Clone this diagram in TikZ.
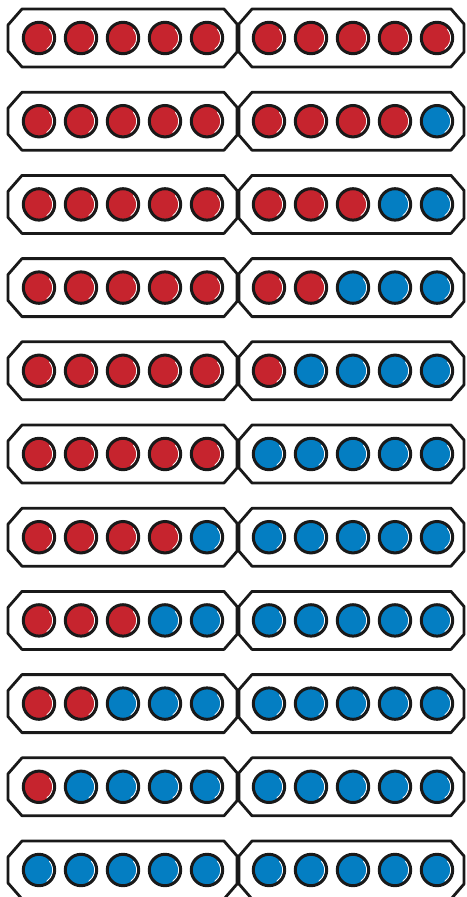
\documentclass[tikz,border=0pt]{standalone}
\definecolor{dotred}{RGB}{198,36,46}
\definecolor{dotblue}{RGB}{4,126,194}
\tikzset{
  framebox/.style={draw=black!90, line width=2.8pt, line join=round, fill=white},
  dot/.style={draw=black!90, line width=3pt},
  shine/.style={draw=white, line width=1pt, line cap=round}
}
\begin{document}
\begin{tikzpicture}[x=1pt,y=-1pt]
\useasboundingbox (0,0) rectangle (466,897);
\foreach \r in {0,...,10}{
  \pgfmathsetmacro{\cy}{38+83.2*\r}
  \pgfmathtruncatemacro{\nred}{10-\r}
  % left box
  \draw[framebox] (22,\cy-29) -- (224,\cy-29) -- (237,\cy-14) -- (237,\cy+14) -- (224,\cy+29)
     -- (22,\cy+29) -- (8,\cy+13) -- (8,\cy-13) -- cycle;
  % right box
  \draw[framebox] (252,\cy-29) -- (451,\cy-29) -- (464,\cy-14) -- (464,\cy+14) -- (451,\cy+29)
     -- (252,\cy+29) -- (239,\cy+14) -- (239,\cy-14) -- cycle;
  \foreach \k in {1,...,10}{
    \pgfmathsetmacro{\cx}{\k<6 ? 39+42*(\k-1) : 269+42*(\k-6)}
    \ifnum\k>\nred
      \def\dc{dotblue}
    \else
      \def\dc{dotred}
    \fi
    \fill[\dc] (\cx,\cy) circle[radius=15.7];
    \draw[shine] (\cx,\cy) ++(-40:13.7) arc[start angle=-40, end angle=55, radius=13.7];
    \draw[dot] (\cx,\cy) circle[radius=15.7];
  }
}
\end{tikzpicture}
\end{document}
